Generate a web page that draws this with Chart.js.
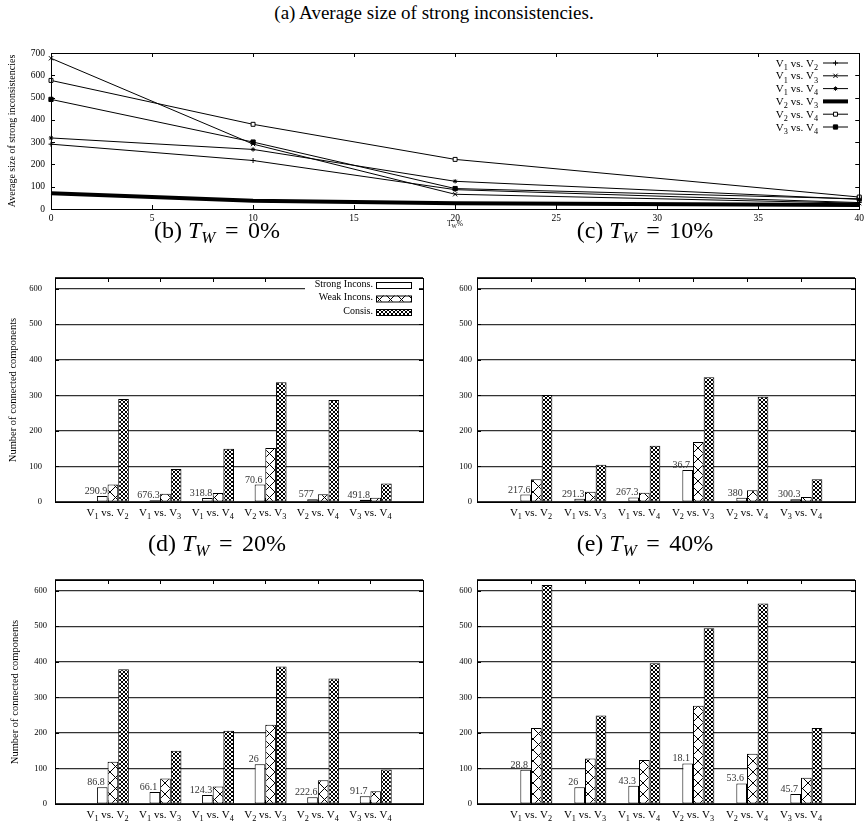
<!DOCTYPE html>
<html>
<head>
<meta charset="utf-8">
<script src="https://cdn.jsdelivr.net/npm/chart.js@4.4.0/dist/chart.umd.min.js"></script>
<style>
  body { margin: 0; background: #fff; width: 868px; height: 827px; position: relative; overflow: hidden;
         font-family: "Liberation Serif", "Times New Roman", serif; }
  canvas { position: absolute; }
  .cap { position: absolute; font-size: 24px; white-space: nowrap; line-height: 1; transform: translate(-50%, -50%); z-index: 2; }
  .cap sub { font-size: 0.7em; vertical-align: -0.3em; }
  .cap .eq { margin: 0 0.15em; }
</style>
</head>
<body>
<div class="cap" style="left:434px; top:12px; font-size:19px">(a) Average size of strong inconsistencies.</div>
<div class="cap" style="left:217px; top:232px">(b) <i>T<sub>W</sub></i> <span class="eq">=</span> 0%</div>
<div class="cap" style="left:645px; top:232px">(c) <i>T<sub>W</sub></i> <span class="eq">=</span> 10%</div>
<div class="cap" style="left:217px; top:545px">(d) <i>T<sub>W</sub></i> <span class="eq">=</span> 20%</div>
<div class="cap" style="left:645px; top:545px">(e) <i>T<sub>W</sub></i> <span class="eq">=</span> 40%</div>

<canvas id="avg" width="868" height="192" style="left:0; top:40px"></canvas>
<canvas id="tw0" width="434" height="275" style="left:0; top:250px"></canvas>
<canvas id="tw10" width="434" height="275" style="left:434px; top:250px"></canvas>
<canvas id="tw20" width="434" height="275" style="left:0; top:552px"></canvas>
<canvas id="tw40" width="434" height="275" style="left:434px; top:552px"></canvas>

<script>
// --- data ---
const pairs = ['V_1 vs. V_2', 'V_1 vs. V_3', 'V_1 vs. V_4', 'V_2 vs. V_3', 'V_2 vs. V_4', 'V_3 vs. V_4'];
const twLevels = [0, 10, 20, 40];

// average size of strong inconsistencies (same order as pairs)
const avgTw0 = [290.9, 676.3, 318.8, 70.6, 577, 491.8];
const avgTw10 = [217.6, 291.3, 267.3, 36.7, 380, 300.3];
const avgTw20 = [86.8, 66.1, 124.3, 26, 222.6, 91.7];
const avgTw40 = [28.8, 26, 43.3, 18.1, 53.6, 45.7];

// number of connected components
const strongTw0 = [17, 5, 11, 49, 8, 6];
const weakTw0 = [49, 23, 25, 152, 22, 12];
const consisTw0 = [290, 93, 150, 337, 287, 52];

const strongTw10 = [21, 9, 13, 90, 12, 8];
const weakTw10 = [64, 29, 26, 169, 33, 14];
const consisTw10 = [301, 105, 158, 351, 296, 64];

const strongTw20 = [47, 34, 25, 112, 19, 22];
const weakTw20 = [119, 72, 49, 223, 67, 36];
const consisTw20 = [379, 150, 206, 387, 353, 97];

const strongTw40 = [96, 47, 51, 114, 58, 28];
const weakTw40 = [214, 128, 124, 276, 141, 74];
const consisTw40 = [616, 249, 396, 494, 564, 214];

const avgTicks = [0, 5, 10, 15, 20, 25, 30, 35, 40];
const avgYTicks = [0, 100, 200, 300, 400, 500, 600, 700];
const countTicks = [0, 100, 200, 300, 400, 500, 600];

// --- helpers ---
const serif = '"Liberation Serif", "Times New Roman", serif';

// split "V_1 vs. V_2" into normal / subscript runs
function richParts(text) {
  const out = [];
  for (let i = 0; i < text.length; i++) {
    if (text[i] === '_' && i + 1 < text.length) {
      out.push({ t: text[i + 1], sub: true });
      i++;
    } else if (out.length && !out[out.length - 1].sub) {
      out[out.length - 1].t += text[i];
    } else {
      out.push({ t: text[i], sub: false });
    }
  }
  return out;
}

function drawRich(ctx, text, x, y, size, align) {
  const parts = richParts(text);
  const fontOf = p => (p.sub ? size * 0.75 : size) + 'px ' + serif;
  let w = 0;
  parts.forEach(p => { ctx.font = fontOf(p); p.w = ctx.measureText(p.t).width; w += p.w; });
  let cx = align === 'right' ? x - w : align === 'center' ? x - w / 2 : x;
  ctx.textAlign = 'left';
  ctx.textBaseline = 'alphabetic';
  parts.forEach(p => {
    ctx.font = fontOf(p);
    ctx.fillText(p.t, cx, p.sub ? y + size * 0.3 : y);
    cx += p.w;
  });
}

function makePattern(size, lw) {
  const c = document.createElement('canvas');
  c.width = c.height = size;
  const g = c.getContext('2d');
  g.fillStyle = '#fff';
  g.fillRect(0, 0, size, size);
  g.strokeStyle = '#000';
  g.lineWidth = lw;
  g.beginPath();
  g.moveTo(0, 0); g.lineTo(size, size);
  g.moveTo(size, 0); g.lineTo(0, size);
  g.stroke();
  return g.createPattern(c, 'repeat');
}

const weakPattern = makePattern(11, 1);
const consisPattern = makePattern(4, 1);

// box around the plot area
const framePlugin = {
  id: 'frame',
  afterDatasetsDraw(chart) {
    const { ctx, chartArea: a } = chart;
    ctx.save();
    ctx.strokeStyle = '#000';
    ctx.lineWidth = 1;
    ctx.strokeRect(Math.round(a.left) + 0.5, Math.round(a.top) + 0.5,
      Math.round(a.right - a.left), Math.round(a.bottom - a.top));
    ctx.restore();
  }
};

// gnuplot style inward ticks on all four sides
function innerTicks(xVals, yVals, len) {
  return {
    id: 'innerTicks',
    beforeDatasetsDraw(chart) {
      const { ctx, chartArea: a, scales } = chart;
      ctx.save();
      ctx.strokeStyle = '#000';
      ctx.lineWidth = 1;
      ctx.beginPath();
      xVals.forEach(v => {
        const px = Math.round(scales.x.getPixelForValue(v)) + 0.5;
        ctx.moveTo(px, a.top); ctx.lineTo(px, a.top + len);
        ctx.moveTo(px, a.bottom); ctx.lineTo(px, a.bottom - len);
      });
      yVals.forEach(v => {
        const py = Math.round(scales.y.getPixelForValue(v)) + 0.5;
        ctx.moveTo(a.left, py); ctx.lineTo(a.left + len, py);
        ctx.moveTo(a.right, py); ctx.lineTo(a.right - len, py);
      });
      ctx.stroke();
      ctx.restore();
    }
  };
}

// --- (a) line chart ---
const avgByLevel = [avgTw0, avgTw10, avgTw20, avgTw40];
const lineStyles = [
  { pointStyle: 'cross', pointRadius: 2.5, fill: '#000', width: 1 },
  { pointStyle: 'crossRot', pointRadius: 3, fill: '#000', width: 1 },
  { pointStyle: 'star', pointRadius: 2.2, fill: '#000', width: 1 },
  { pointStyle: 'circle', pointRadius: 0, fill: '#000', width: 4 },
  { pointStyle: 'rect', pointRadius: 2.8, fill: '#fff', width: 1 },
  { pointStyle: 'rect', pointRadius: 3, fill: '#000', width: 1 }
];

const avgLegend = {
  id: 'avgLegend',
  afterDatasetsDraw(chart) {
    const ctx = chart.ctx;
    ctx.save();
    ctx.fillStyle = '#000';
    pairs.forEach((p, k) => {
      const y = 23 + k * 12.8;
      drawRich(ctx, p, 818, y + 3.5, 11, 'right');
      const st = lineStyles[k];
      ctx.strokeStyle = '#000';
      ctx.lineWidth = st.width;
      ctx.beginPath();
      ctx.moveTo(823, y); ctx.lineTo(848, y);
      ctx.stroke();
      if (st.pointRadius > 0) {
        ctx.fillStyle = st.fill;
        ctx.lineWidth = 1;
        Chart.helpers.drawPoint(ctx, { pointStyle: st.pointStyle, radius: st.pointRadius, borderWidth: 1, rotation: 0 }, 835.5, y);
        ctx.fillStyle = '#000';
      }
    });
    // x axis title T_W%
    drawRich(ctx, 'T_W%', 455, 186, 7.5, 'center');
    ctx.restore();
  }
};

new Chart(document.getElementById('avg'), {
  type: 'line',
  data: {
    datasets: pairs.map((p, k) => ({
      label: p,
      data: twLevels.map((t, j) => ({ x: t, y: avgByLevel[j][k] })),
      borderColor: '#000',
      borderWidth: lineStyles[k].width,
      tension: 0,
      clip: false,
      pointStyle: lineStyles[k].pointStyle,
      pointRadius: lineStyles[k].pointRadius,
      pointBackgroundColor: lineStyles[k].fill,
      pointBorderColor: '#000',
      pointBorderWidth: 1
    }))
  },
  options: {
    responsive: false,
    animation: false,
    layout: { padding: { top: 13, right: 8, left: 0, bottom: 0 } },
    plugins: { legend: { display: false }, tooltip: { enabled: false } },
    scales: {
      x: {
        type: 'linear', min: 0, max: 40,
        ticks: { stepSize: 5, color: '#000', font: { family: serif, size: 9.5 }, padding: 4, maxRotation: 0 },
        grid: { display: false, drawTicks: false, tickLength: 0 },
        border: { display: false },
        afterFit: s => { s.height = 23; }
      },
      y: {
        min: 0, max: 700,
        ticks: { stepSize: 100, color: '#000', font: { family: serif, size: 9.5 }, padding: 6 },
        grid: { display: false, drawTicks: false, tickLength: 0 },
        border: { display: false },
        title: { display: true, text: 'Average size of strong inconsistencies', color: '#000',
                 font: { family: serif, size: 10 }, padding: { top: 6, bottom: 0 } },
        afterFit: s => { s.width = 51; }
      }
    }
  },
  plugins: [innerTicks(avgTicks, avgYTicks, 4), framePlugin, avgLegend]
});

// --- (b)-(e) bar charts ---
const pad = arr => [null, ...arr, null];

function barChart(id, strong, weak, consis, sizes, cfg) {
  const labelsPlugin = {
    id: 'labels',
    afterDraw(chart) {
      const { ctx, chartArea: a, scales } = chart;
      ctx.save();
      ctx.fillStyle = '#000';
      pairs.forEach((p, i) => {
        drawRich(ctx, p, scales.x.getPixelForValue(i + 1), a.bottom + 14, 11, 'center');
      });
      // value labels next to the strong bars
      const meta = chart.getDatasetMeta(1);
      ctx.font = '10px ' + serif;
      ctx.fillStyle = '#333';
      ctx.textAlign = 'center';
      ctx.textBaseline = 'alphabetic';
      sizes.forEach((v, i) => {
        const el = meta.data[i + 1];
        const { x, y, width } = el.getProps(['x', 'y', 'width'], true);
        ctx.fillText(String(v), x - width / 2 - 1, y - 2);
      });
      ctx.restore();
    }
  };

  const legendPlugin = {
    id: 'barLegend',
    afterDatasetsDraw(chart) {
      if (!cfg.legend) return;
      const ctx = chart.ctx;
      ctx.save();
      ctx.fillStyle = '#fff';
      ctx.fillRect(305, 29, 114, 37);
      const names = ['Strong Incons.', 'Weak Incons.', 'Consis.'];
      const fills = ['#fff', weakPattern, consisPattern];
      names.forEach((n, k) => {
        const c = 34 + k * 13.5;
        ctx.fillStyle = '#000';
        ctx.font = '10px ' + serif;
        ctx.textAlign = 'right';
        ctx.textBaseline = 'middle';
        ctx.fillText(n, 373, c);
        ctx.fillStyle = fills[k];
        ctx.fillRect(376, c - 2, 35, 6);
        ctx.strokeStyle = '#000';
        ctx.lineWidth = 1;
        ctx.strokeRect(376.5, c - 1.5, 35, 6);
      });
      ctx.restore();
    }
  };

  const bar = (label, data, bg) => ({
    label, data: pad(data), backgroundColor: bg, borderColor: '#000', borderWidth: 1
  });

  return new Chart(document.getElementById(id), {
    type: 'bar',
    data: {
      labels: ['', ...pairs, ''],
      datasets: [
        // empty slot: gnuplot leaves the gap on the left of each cluster
        { label: '', data: pad(pairs.map(() => null)) },
        bar('Strong Incons.', strong, '#fff'),
        bar('Weak Incons.', weak, weakPattern),
        bar('Consis.', consis, consisPattern)
      ]
    },
    options: {
      responsive: false,
      animation: false,
      layout: { padding: { top: 28, right: cfg.padRight, left: 0, bottom: 0 } },
      datasets: { bar: { categoryPercentage: cfg.catPct, barPercentage: 1, borderSkipped: false } },
      plugins: { legend: { display: false }, tooltip: { enabled: false } },
      scales: {
        x: {
          offset: false,
          ticks: { display: false },
          grid: { display: false, drawTicks: false, tickLength: 0 },
          border: { display: false },
          afterFit: s => { s.height = 23; }
        },
        y: {
          min: 0, max: 630,
          ticks: { stepSize: 100, color: '#000', font: { family: serif, size: 8.5 }, padding: cfg.tickPad,
                   callback: v => (v % 100 === 0 ? v : '') },
          grid: { color: '#333', lineWidth: 1.2, drawTicks: false, tickLength: 0 },
          border: { display: false },
          title: { display: cfg.yTitle, text: 'Number of connected components', color: '#000',
                   font: { family: serif, size: 10.5 }, padding: { top: cfg.titlePad, bottom: 0 } },
          afterFit: s => { s.width = cfg.yWidth; }
        }
      }
    },
    plugins: [innerTicks([1, 2, 3, 4, 5, 6], countTicks, 4), legendPlugin, framePlugin, labelsPlugin]
  });
}

barChart('tw0', strongTw0, weakTw0, consisTw0, avgTw0,
  { yWidth: 55, padRight: 11, tickPad: 13, yTitle: true, titlePad: 7, legend: true, catPct: 0.81 });
barChart('tw10', strongTw10, weakTw10, consisTw10, avgTw10,
  { yWidth: 43, padRight: 13, tickPad: 5, yTitle: false, titlePad: 0, legend: false, catPct: 0.79 });
barChart('tw20', strongTw20, weakTw20, consisTw20, avgTw20,
  { yWidth: 55, padRight: 11, tickPad: 8, yTitle: true, titlePad: 9, legend: false, catPct: 0.81 });
barChart('tw40', strongTw40, weakTw40, consisTw40, avgTw40,
  { yWidth: 43, padRight: 13, tickPad: 5, yTitle: false, titlePad: 0, legend: false, catPct: 0.79 });
</script>
</body>
</html>
